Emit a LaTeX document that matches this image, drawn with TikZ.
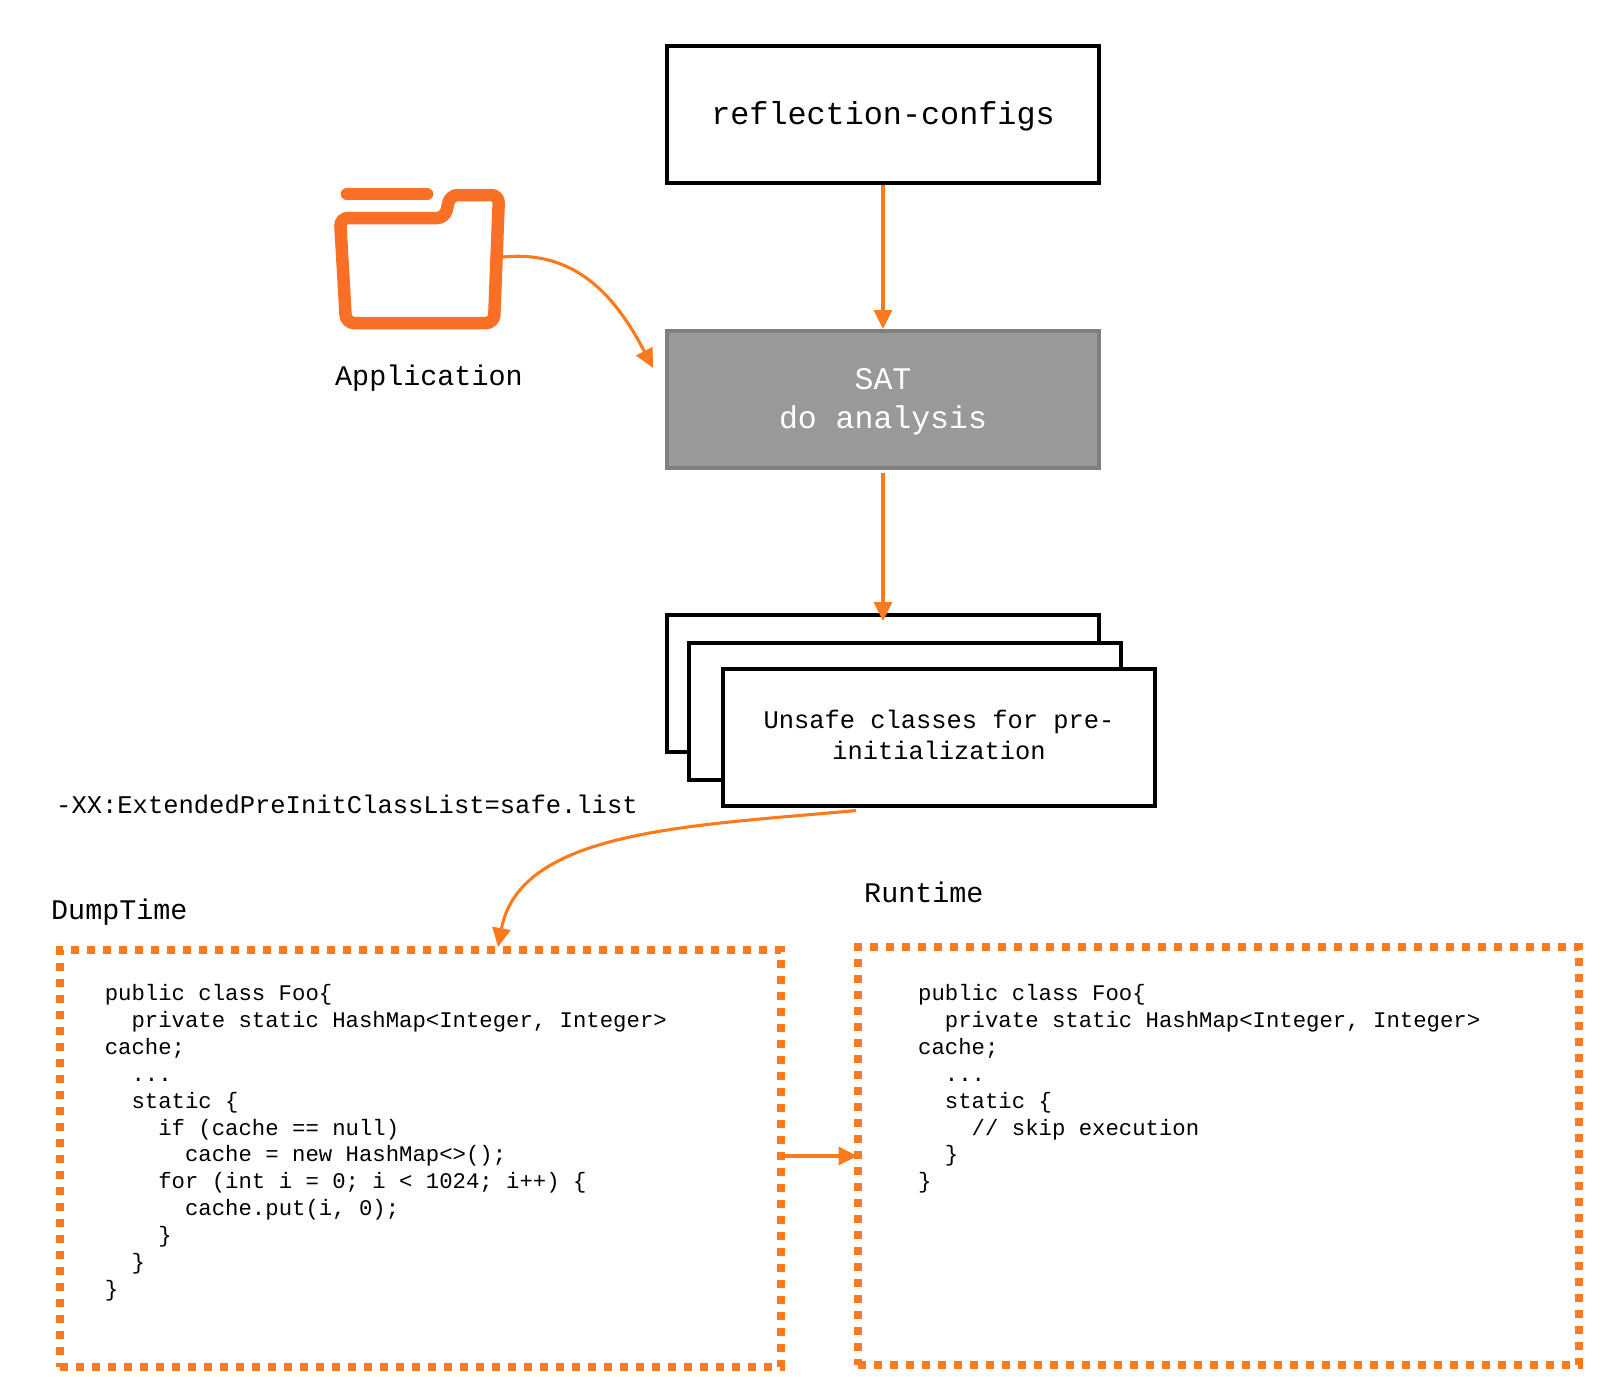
\documentclass[tikz,border=0pt]{standalone}
\usepackage{xcolor}
\usepackage{fontspec}
\setmonofont{Liberation Mono}
\usetikzlibrary{arrows.meta}
\definecolor{flow}{HTML}{FB7A1C}
\definecolor{foldercol}{HTML}{F96F26}
\tikzset{
    box/.style={draw, line width=4pt, fill=white, minimum width=432pt, minimum height=137pt},
    boxtext/.style={inner sep=0pt, align=center},
    flowarrow/.style={draw=flow, line width=3.1pt, -{Triangle[length=19pt, width=18pt]}},
    dotbox/.style={draw=flow, line width=8pt, dash pattern=on 8pt off 8pt, outer sep=0pt, minimum height=417pt},
    code/.style={inner sep=0pt, anchor=north west, align=left, font=\ttfamily\fontsize{22.3}{26.85}\selectfont},
    title/.style={inner sep=0pt, anchor=west, font=\ttfamily\fontsize{28.4}{34}\selectfont}
}

\begin{document}
\begin{tikzpicture}[x=1pt, y=-1pt]
    \useasboundingbox (0,0) rectangle (1624,1376);

    % Top boxes
    \node[box] (refl) at (883,114.5) {};
    \node[boxtext, font=\ttfamily\fontsize{31.8}{39}\selectfont] (refltext) at (883,116) {reflection-configs};
    \node[box, draw=black!50, fill=black!40] (sat) at (883,399.5) {};
    \node[boxtext, text=white, font=\ttfamily\fontsize{31.5}{39}\selectfont] (sattext) at (883,402) {SAT\\do analysis};
    \draw[flowarrow] (refl.south) -- (sat.north);

    % Folder
    \draw[foldercol, line width=12.5pt, line cap=round] (347,194) -- (427,194);
    \draw[foldercol, line width=12.5pt, rounded corners=8pt] (340,218) -- (445,218) -- (450,195) -- (499,195) -- (494,323) -- (346,323) -- cycle;
    \node[title] (app) at (335,378) {Application};
    \coordinate (appout) at (503,257);
    \coordinate (satin) at (653,368);
    \draw[flowarrow] (appout) .. controls (575,250) and (615,295) .. (satin);

    % Stacked boxes
    \node[box] (stackc) at (883,683.5) {};
    \node[box] (stackb) at (905,711) {};
    \node[box] (stacka) at (939,737.5) {};
    \node[boxtext, font=\ttfamily\fontsize{25.4}{31}\selectfont] (stacktext) at (939,735) {Unsafe classes for pre-\\initialization};
    \coordinate (satout) at (883,473);
    \coordinate (stackin) at (883,621);
    \draw[flowarrow] (satout) -- (stackin);

    % Flag
    \node[inner sep=0pt, anchor=west, font=\ttfamily\fontsize{25.5}{31}\selectfont] (flag) at (56,804) {-XX:ExtendedPreInitClassList=safe.list};

    % DumpTime
    \node[title] (dumplabel) at (51,912) {DumpTime};
    \node[dotbox, minimum width=721pt] (dumpbox) at (420.5,1158.5) {};
    \node[code] (dumpcode) at (104.6,984.5) {public class Foo\{\\
~~private static HashMap<Integer, Integer>\\
cache;\\
~~...\\
~~static \{\\
~~~~if (cache == null)\\
~~~~~~cache = new HashMap<>();\\
~~~~for (int i = 0; i < 1024; i++) \{\\
~~~~~~cache.put(i, 0);\\
~~~~\}\\
~~\}\\
\}};

    % Runtime
    \node[title] (runlabel) at (864,892) {Runtime};
    \node[dotbox, minimum width=721pt, minimum height=418pt] (runbox) at (1218,1156) {};
    \node[code] (runcode) at (918,984.5) {public class Foo\{\\
~~private static HashMap<Integer, Integer>\\
cache;\\
~~...\\
~~static \{\\
~~~~// skip execution\\
~~\}\\
\}};

    % Arrows to the code boxes
    \coordinate (stackout) at (856,810.5);
    \coordinate (dumpin) at (498,947);
    \draw[flowarrow] (stackout) .. controls (690,826) and (520,830) .. (dumpin);
    \draw[flowarrow] (dumpbox.east |- runbox.west) -- (runbox.west);
\end{tikzpicture}
\end{document}
